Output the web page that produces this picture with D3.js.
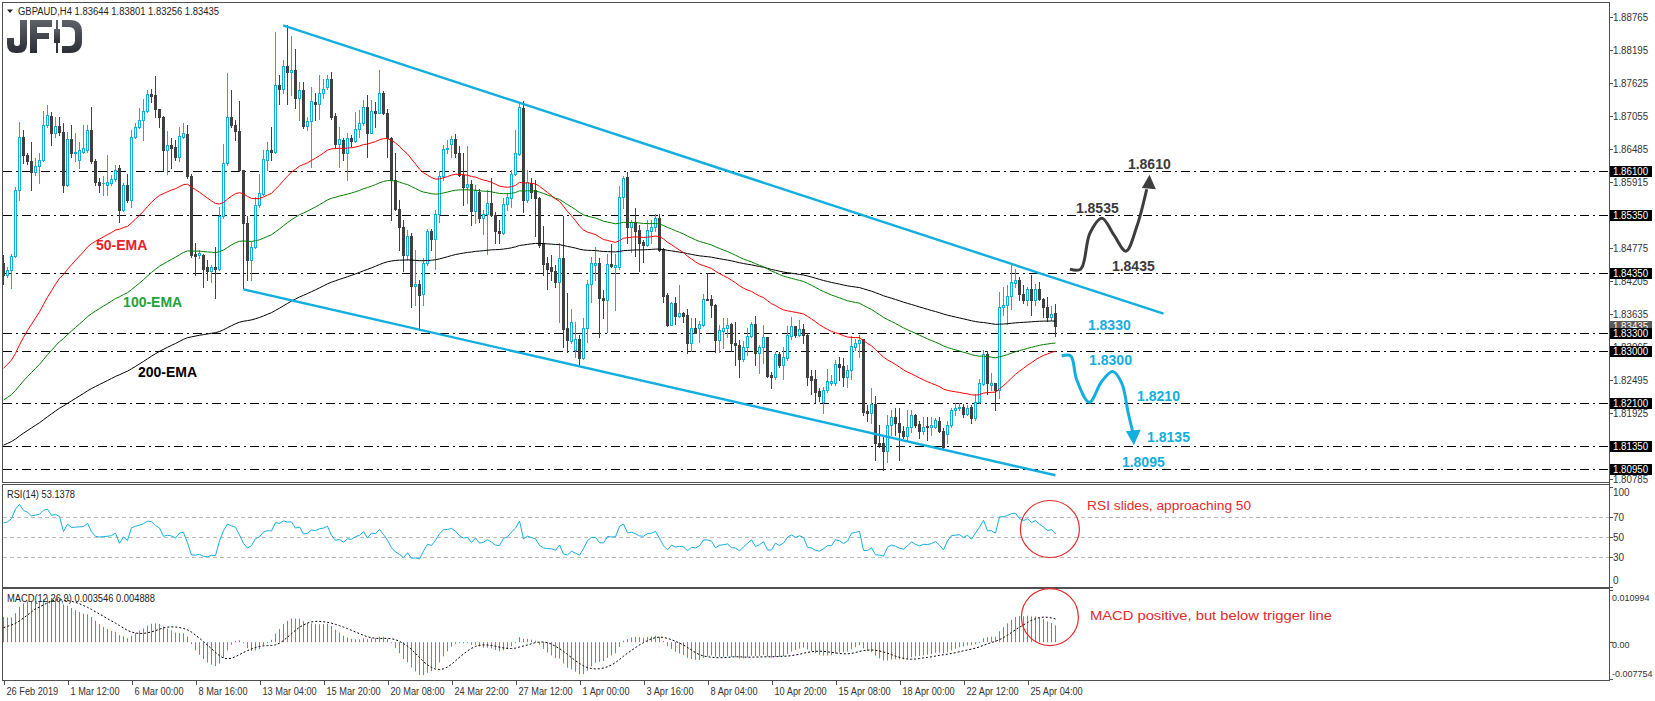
<!DOCTYPE html>
<html><head><meta charset="utf-8">
<script src="https://cdn.jsdelivr.net/npm/d3@7"></script>
<style>html,body{margin:0;padding:0;background:#fff;overflow:hidden}svg{display:block}</style>
</head><body>
<script>
// ---------------- DATA ----------------
const symbolTitle = "GBPAUD,H4  1.83644 1.83801 1.83256 1.83435";
const rsiTitle = "RSI(14) 53.1378";
const macdTitle = "MACD(12,26,9) 0.003546 0.004888";

const opens = [
1.8451,1.8431,1.8439,1.8464,1.8578,1.8670,1.8638,1.8628,1.8608,1.8619,
1.8630,1.8690,1.8706,1.8676,1.8688,1.8678,1.8586,1.8665,1.8641,1.8630,
1.8644,1.8647,1.8681,1.8627,1.8592,1.8589,1.8586,1.8590,1.8596,1.8615,
1.8543,1.8586,1.8560,1.8670,1.8686,1.8698,1.8715,1.8743,1.8742,1.8717,
1.8703,1.8647,1.8655,1.8652,1.8635,1.8670,1.8675,1.8601,1.8468,1.8465,
1.8465,1.8444,1.8437,1.8444,1.8442,1.8532,1.8624,1.8704,1.8690,1.8679,
1.8612,1.8520,1.8457,1.8479,1.8552,1.8571,1.8630,
1.8647,1.8644,1.8759,1.8753,1.8792,1.8782,1.8785,1.8736,1.8750,1.8688,
1.8697,1.8730,1.8726,1.8745,1.8756,1.8770,1.8705,1.8658,1.8664,1.8641,
1.8668,1.8663,1.8683,1.8693,1.8721,1.8677,1.8714,1.8711,1.8745,1.8710,
1.8667,1.8595,1.8544,1.8513,1.8465,1.8498,1.8412,1.8415,1.8398,1.8451,
1.8506,1.8493,1.8537,1.8601,1.8648,1.8658,1.8665,1.8642,1.8603,1.8582,
1.8588,1.8542,1.8575,1.8529,1.8536,1.8556,1.8534,1.8506,1.8504,1.8554,
1.8563,1.8606,1.8640,1.8719,1.8560,1.8590,
1.8578,1.8563,1.8486,1.8451,1.8444,1.8438,1.8419,1.8460,1.8339,1.8317,
1.8301,1.8321,1.8287,1.8340,1.8416,1.8448,1.8451,1.8392,1.8388,1.8450,
1.8444,1.8445,1.8565,1.8600,1.8513,1.8523,1.8509,1.8487,1.8483,1.8507,
1.8513,1.8529,1.8475,1.8396,1.8344,1.8382,1.8360,1.8366,1.8362,1.8314,
1.8340,1.8339,1.8344,1.8389,1.8389,1.8379,1.8319,1.8335,1.8339,1.8346,
1.8313,1.8310,1.8285,1.8306,1.8325,1.8346,1.8296,1.8306,1.8323,1.8258,
1.8254,1.8294,1.8275,1.8287,1.8325,1.8342,1.8327,
1.8337,1.8327,1.8256,1.8251,1.8231,1.8212,1.8232,1.8244,1.8244,1.8277,
1.8274,1.8255,1.8266,1.8307,1.8313,1.8320,1.8196,1.8193,1.8208,1.8141,
1.8141,1.8126,1.8172,1.8185,1.8175,1.8162,1.8152,1.8168,1.8189,1.8173,
1.8162,1.8170,1.8168,1.8169,1.8179,1.8162,1.8157,1.8172,1.8198,1.8201,
1.8203,1.8191,1.8203,1.8183,1.8212,1.8243,1.8294,1.8241,1.8244,1.8232,
1.8376,1.8379,1.8395,1.8417,1.8423,1.8398,1.8388,1.8406,1.8388,1.8406,
1.8389,1.8376,1.8358,1.83644];

const highs = [
1.8465,1.8445,1.8468,1.8583,1.8696,1.8681,1.8642,1.8661,1.8633,1.8641,
1.8715,1.8725,1.8713,1.8704,1.8703,1.8693,1.8678,1.8690,1.8677,1.8661,
1.8690,1.8690,1.8721,1.8631,1.8598,1.8601,1.8638,1.8604,1.8621,1.8621,
1.8589,1.8606,1.8681,1.8693,1.8719,1.8735,1.8750,1.8753,1.8775,1.8718,
1.8705,1.8679,1.8667,1.8664,1.8687,1.8693,1.8690,1.8606,1.8486,1.8474,
1.8468,1.8457,1.8448,1.8480,1.8549,1.8658,1.8780,1.8750,1.8699,1.8732,
1.8613,1.8533,1.8488,1.8566,1.8606,1.8647,1.8661,
1.8687,1.8851,1.8776,1.8802,1.8863,1.8843,1.8822,1.8765,1.8765,1.8704,
1.8756,1.8745,1.8776,1.8770,1.8776,1.8782,1.8710,1.8687,1.8667,1.8676,
1.8673,1.8713,1.8716,1.8733,1.8742,1.8733,1.8730,1.8785,1.8748,1.8717,
1.8670,1.8641,1.8560,1.8526,1.8509,1.8503,1.8474,1.8422,1.8460,1.8511,
1.8511,1.8543,1.8610,1.8655,1.8664,1.8671,1.8674,1.8653,1.8641,1.8653,
1.8595,1.8586,1.8580,1.8543,1.8578,1.8598,1.8540,1.8526,1.8563,1.8573,
1.8612,1.8681,1.8728,1.8732,1.8612,1.8598,
1.8595,1.8566,1.8516,1.8462,1.8465,1.8448,1.8486,1.8533,1.8400,1.8372,
1.8350,1.8327,1.8356,1.8422,1.8462,1.8479,1.8460,1.8405,1.8467,1.8484,
1.8467,1.8585,1.8601,1.8609,1.8526,1.8546,1.8517,1.8491,1.8526,1.8526,
1.8537,1.8537,1.8478,1.8399,1.8385,1.8393,1.8414,1.8367,1.8373,1.8356,
1.8356,1.8352,1.8398,1.8434,1.8396,1.8380,1.8344,1.8356,1.8356,1.8348,
1.8350,1.8319,1.8317,1.8339,1.8349,1.8360,1.8310,1.8344,1.8324,1.8264,
1.8298,1.8298,1.8306,1.8342,1.8358,1.8343,1.8353,
1.8347,1.8330,1.8267,1.8267,1.8235,1.8238,1.8268,1.8258,1.8284,1.8290,
1.8287,1.8275,1.8325,1.8321,1.8327,1.8321,1.8206,1.8235,1.8222,1.8172,
1.8152,1.8189,1.8198,1.8201,1.8201,1.8170,1.8198,1.8198,1.8191,1.8179,
1.8186,1.8186,1.8186,1.8183,1.8186,1.8166,1.8179,1.8201,1.8210,1.8210,
1.8208,1.8206,1.8206,1.8226,1.8252,1.8301,1.8300,1.8261,1.8245,1.8402,
1.8411,1.8414,1.8450,1.8441,1.8428,1.8414,1.8411,1.8431,1.8415,1.8418,
1.8391,1.8393,1.8378,1.83801];

const lows = [
1.8416,1.8428,1.8408,1.8462,1.8560,1.8624,1.8623,1.8578,1.8604,1.8590,
1.8627,1.8686,1.8655,1.8670,1.8673,1.8575,1.8585,1.8635,1.8627,1.8615,
1.8641,1.8644,1.8624,1.8586,1.8575,1.8569,1.8569,1.8586,1.8594,1.8523,
1.8542,1.8557,1.8549,1.8667,1.8684,1.8664,1.8713,1.8730,1.8704,1.8687,
1.8612,1.8606,1.8615,1.8630,1.8627,1.8667,1.8598,1.8462,1.8431,1.8460,
1.8411,1.8422,1.8419,1.8391,1.8439,1.8529,1.8621,1.8687,1.8664,1.8611,
1.8408,1.8422,1.8422,1.8477,1.8549,1.8569,1.8612,
1.8630,1.8641,1.8727,1.8745,1.8727,1.8742,1.8719,1.8699,1.8684,1.8681,
1.8618,1.8699,1.8700,1.8736,1.8752,1.8700,1.8650,1.8618,1.8630,1.8595,
1.8653,1.8661,1.8670,1.8690,1.8635,1.8676,1.8687,1.8710,1.8709,1.8635,
1.8526,1.8543,1.8474,1.8437,1.8457,1.8376,1.8379,1.8336,1.8379,1.8448,
1.8474,1.8442,1.8523,1.8595,1.8641,1.8635,1.8635,1.8601,1.8552,1.8555,
1.8517,1.8520,1.8523,1.8502,1.8468,1.8532,1.8486,1.8486,1.8502,1.8543,
1.8549,1.8604,1.8638,1.8539,1.8557,1.8563,
1.8498,1.8480,1.8431,1.8406,1.8422,1.8411,1.8349,1.8307,1.8298,1.8313,
1.8290,1.8273,1.8285,1.8316,1.8385,1.8422,1.8324,1.8356,1.8333,1.8445,
1.8370,1.8442,1.8546,1.8486,1.8471,1.8464,1.8438,1.8454,1.8481,1.8486,
1.8506,1.8472,1.8385,1.8342,1.8344,1.8347,1.8359,1.8350,1.8296,1.8299,
1.8330,1.8316,1.8342,1.8387,1.8359,1.8297,1.8297,1.8304,1.8324,1.8300,
1.8275,1.8255,1.8283,1.8293,1.8324,1.8275,1.8261,1.8278,1.8255,1.8235,
1.8252,1.8272,1.8252,1.8284,1.8321,1.8324,1.8325,
1.8313,1.8241,1.8226,1.8212,1.8214,1.8192,1.8229,1.8241,1.8241,1.8249,
1.8239,1.8238,1.8252,1.8301,1.8290,1.8189,1.8179,1.8175,1.8111,1.8134,
1.8094,1.8108,1.8155,1.8155,1.8112,1.8149,1.8146,1.8159,1.8169,1.8149,
1.8157,1.8146,1.8154,1.8166,1.8160,1.8131,1.8140,1.8169,1.8189,1.8198,
1.8186,1.8189,1.8175,1.8181,1.8210,1.8241,1.8226,1.8232,1.8198,1.8218,
1.8362,1.8347,1.8372,1.8411,1.8388,1.8383,1.8379,1.8362,1.8379,1.8388,
1.8359,1.8352,1.8354,1.83256];

const closes = [
1.8431,1.8439,1.8464,1.8578,1.8670,1.8638,1.8628,1.8608,1.8619,1.8630,
1.8690,1.8707,1.8676,1.8688,1.8678,1.8586,1.8665,1.8641,1.8644,1.8647,
1.8650,1.8681,1.8627,1.8592,1.8586,1.8590,1.8592,1.8596,1.8613,1.8543,
1.8586,1.8560,1.8670,1.8687,1.8699,1.8715,1.8743,1.8740,1.8717,1.8703,
1.8647,1.8655,1.8650,1.8635,1.8671,1.8676,1.8601,1.8465,1.8464,1.8469,
1.8442,1.8437,1.8445,1.8442,1.8532,1.8624,1.8704,1.8690,1.8679,1.8612,
1.8520,1.8457,1.8480,1.8552,1.8572,1.8631,1.8647,
1.8644,1.8759,1.8753,1.8792,1.8782,1.8785,1.8736,1.8750,1.8688,1.8697,
1.8731,1.8726,1.8745,1.8752,1.8770,1.8704,1.8658,1.8666,1.8641,1.8667,
1.8663,1.8683,1.8693,1.8721,1.8677,1.8714,1.8711,1.8745,1.8710,1.8667,
1.8595,1.8544,1.8513,1.8465,1.8498,1.8412,1.8415,1.8396,1.8451,1.8506,
1.8493,1.8537,1.8602,1.8648,1.8651,1.8665,1.8642,1.8603,1.8582,1.8588,
1.8542,1.8578,1.8529,1.8537,1.8556,1.8534,1.8506,1.8503,1.8554,1.8565,
1.8606,1.8641,1.8721,1.8560,1.8592,1.8575,
1.8563,1.8483,1.8450,1.8441,1.8438,1.8419,1.8460,1.8337,1.8319,1.8350,
1.8321,1.8287,1.8340,1.8416,1.8451,1.8451,1.8391,1.8388,1.8450,1.8446,
1.8448,1.8565,1.8598,1.8513,1.8523,1.8507,1.8486,1.8483,1.8509,1.8513,
1.8529,1.8474,1.8395,1.8344,1.8382,1.8360,1.8366,1.8360,1.8314,1.8340,
1.8331,1.8346,1.8389,1.8388,1.8379,1.8319,1.8336,1.8339,1.8344,1.8313,
1.8310,1.8285,1.8306,1.8325,1.8346,1.8296,1.8306,1.8323,1.8256,1.8254,
1.8294,1.8275,1.8289,1.8327,1.8342,1.8327,1.8337,
1.8327,1.8255,1.8249,1.8229,1.8221,1.8233,1.8248,1.8248,1.8277,1.8272,
1.8255,1.8266,1.8309,1.8313,1.8319,1.8195,1.8193,1.8208,1.8141,1.8137,
1.8126,1.8172,1.8185,1.8175,1.8160,1.8152,1.8168,1.8189,1.8172,1.8162,
1.8169,1.8168,1.8172,1.8180,1.8162,1.8134,1.8172,1.8198,1.8201,1.8203,
1.8191,1.8201,1.8183,1.8212,1.8244,1.8294,1.8244,1.8244,1.8232,1.8376,
1.8379,1.8395,1.8418,1.8423,1.8398,1.8388,1.8406,1.8388,1.8406,1.8389,
1.8375,1.8358,1.8364,1.83435];

// indicator starting states at the first visible bar
const ema50Start = 1.8270, ema100Start = 1.8215, ema200Start = 1.8137;
const ema12Start = 1.8405, ema26Start = 1.8352, macdBefore = 0.0028;
const rsiGainStart = 0.0013, rsiLossStart = 0.00073;

const xTickBars = [0,16,32,48,64,80,96,112,128,144,160,176,192,208,224,240,256];
const xTickLabels = ["26 Feb 2019","1 Mar 12:00","6 Mar 00:00","8 Mar 16:00","13 Mar 04:00","15 Mar 20:00","20 Mar 08:00","24 Mar 22:00","27 Mar 12:00","1 Apr 00:00","3 Apr 16:00","8 Apr 04:00","10 Apr 20:00","15 Apr 08:00","18 Apr 00:00","22 Apr 12:00","25 Apr 04:00"];
const priceTicks = [1.88765,1.88195,1.87625,1.87055,1.86485,1.85915,1.85345,1.84775,1.84205,1.83635,1.83065,1.82495,1.81925,1.81355,1.80785];
const levels = [1.8610,1.8535,1.8435,1.8330,1.8300,1.8210,1.8135,1.8095];
const rsiTicks = [100,70,50,30,0];
const rsiLevels = [70,50,30];
const macdTicks = [0.010994,0,-0.007754];
const macdTickLabels = ["0.010994","0.00","-0.007754"];

// drawn objects (bar index, price)
const upperChannel = [[69.9,1.8862],[290,1.8364]];
const lowerChannel = [[60,1.8406],[263,1.8085]];
const bullPath = [[266.6,1.8441],[269.3,1.8441],[271.6,1.8503],[274.6,1.8529],[277.6,1.8500],[280.6,1.8472],[283.3,1.8514],[285.8,1.8579]];
const bullHead = [[286.5,1.8604],[284.6,1.8581],[288.1,1.8579]];
const bearPath = [[264.55,1.8291],[266.8,1.8291],[268.3,1.8250],[271.45,1.8211],[274.55,1.8247],[277.3,1.8264],[279.55,1.8244],[281.2,1.8192],[282.3,1.8160]];
const bearHead = [[282.6,1.8137],[280.6,1.8161],[284.3,1.8164]];
const levelNotes = [
 {t:"1.8610",bar:281.1,p:1.8610,dy:-2,c:"dark"},
 {t:"1.8535",bar:268.1,p:1.8535,dy:-2,c:"dark"},
 {t:"1.8435",bar:277.1,p:1.8435,dy:-2,c:"dark"},
 {t:"1.8330",bar:271.1,p:1.8330,dy:-3.5,c:"cyan"},
 {t:"1.8300",bar:271.4,p:1.8300,dy:14,c:"cyan"},
 {t:"1.8210",bar:283.4,p:1.8210,dy:-2,c:"cyan"},
 {t:"1.8135",bar:285.9,p:1.8135,dy:-4,c:"cyan"},
 {t:"1.8095",bar:279.6,p:1.8095,dy:-2.5,c:"cyan"}];
const emaNotes = [{t:"50-EMA",bar:23.1,p:1.8474,c:"#e8202a"},{t:"100-EMA",bar:29.9,p:1.8376,c:"#23a23c"},{t:"200-EMA",bar:33.6,p:1.8255,c:"#000"}];
const rsiNote = {t:"RSI slides, approaching 50", bar:270.9, v:77, cbar:261.6, cv:58};
const macdNote = {t:"MACD positive, but below trigger line", bar:271.6, v:0.00468, cbar:261.6, cv:0.0053};

// ---------------- INDICATORS ----------------
function ema(src, n, start){const k=2/(n+1);const o=[start];for(let i=1;i<src.length;i++)o.push(o[i-1]+k*(src[i]-o[i-1]));return o;}
const ema50 = ema(closes,50,ema50Start), ema100 = ema(closes,100,ema100Start), ema200 = ema(closes,200,ema200Start);
const e12 = ema(closes,12,ema12Start), e26 = ema(closes,26,ema26Start);
const macd = e12.map((v,i)=>v-e26[i]);
const hist = Array(8).fill(macdBefore).concat(macd);
const signal = macd.map((v,i)=>d3.mean(hist.slice(i,i+9)));
const rsi = [];
{let ag=rsiGainStart, al=rsiLossStart; rsi.push(100-100/(1+ag/al));
 for(let i=1;i<closes.length;i++){const ch=closes[i]-closes[i-1];ag=(ag*13+Math.max(ch,0))/14;al=(al*13+Math.max(-ch,0))/14;rsi.push(100-100/(1+ag/al));}}

// ---------------- DRAW ----------------
const W=1655,H=701, FONT='"Liberation Sans", Arial, sans-serif';
const CYAN="#13aee0", DARK="#404040", FRAME="#505050";
const svg=d3.select("body").append("svg").attr("width",W).attr("height",H).style("font-family",FONT);
svg.append("rect").attr("width",W).attr("height",H).attr("fill","#fff");
const L=3, R=1609;
const P={top:3,bottom:482}, RP={top:485,bottom:587}, MP={top:589,bottom:680};
const x=d3.scaleLinear().domain([0,263]).range([3.5,3.5+4*263]);
const y=d3.scaleLinear().domain([1.80785,1.88765]).range([479,17]);
const yR=d3.scaleLinear().domain([0,100]).range([587,487]);
const yM=d3.scaleLinear().domain([-0.007754,0.010994]).range([679,590]);

const defs=svg.append("defs");
[["cm",P],["cr",RP],["cmd",MP]].forEach(([id,p])=>defs.append("clipPath").attr("id",id).append("rect").attr("x",L).attr("y",p.top).attr("width",R-L).attr("height",p.bottom-p.top));
const lg=defs.append("linearGradient").attr("id","lg").attr("x1",0).attr("y1",0).attr("x2",0).attr("y2",1);
lg.append("stop").attr("offset","0").attr("stop-color","#5d6168");
lg.append("stop").attr("offset","1").attr("stop-color","#2b2e34");

// frames
[P,RP,MP].forEach(p=>svg.append("rect").attr("x",L-0.5).attr("y",p.top-0.5).attr("width",R-L+1).attr("height",p.bottom-p.top+1).attr("fill","none").attr("stroke",FRAME).attr("stroke-width",1));

// ---- main panel
const gm=svg.append("g").attr("clip-path","url(#cm)");
gm.selectAll("line.lvl").data(levels).join("line").attr("class","lvl")
  .attr("x1",L).attr("x2",R).attr("y1",d=>Math.round(y(d))+0.5).attr("y2",d=>Math.round(y(d))+0.5)
  .attr("stroke","#000").attr("stroke-width",1).attr("stroke-dasharray","9,4,2,4");

const candles=gm.append("g");
closes.forEach((c,i)=>{
  const o=opens[i], hi=highs[i], lo=lows[i], cx=x(i), bull=c>=o;
  const col=bull?CYAN:DARK;
  candles.append("line").attr("x1",cx).attr("x2",cx).attr("y1",Math.round(y(hi))).attr("y2",Math.round(y(lo))+1).attr("stroke",col).attr("stroke-width",1);
  const t=Math.round(y(Math.max(o,c))), b=Math.round(y(Math.min(o,c)));
  if(b-t<1){candles.append("line").attr("x1",cx-1.5).attr("x2",cx+1.5).attr("y1",t+0.5).attr("y2",t+0.5).attr("stroke",col);}
  else if(bull){candles.append("rect").attr("x",cx-1).attr("y",t+0.5).attr("width",2).attr("height",b-t).attr("fill","#fff").attr("stroke",col).attr("stroke-width",1);}
  else {candles.append("rect").attr("x",cx-1.5).attr("y",t).attr("width",3).attr("height",b-t+1).attr("fill",col);}
});

const lineP=d3.line().x((d,i)=>x(i)).y(d=>y(d));
[[ema200,"#000"],[ema100,"#008000"],[ema50,"#ff0000"]].forEach(([s,c])=>gm.append("path").attr("d",lineP(s)).attr("fill","none").attr("stroke",c).attr("stroke-width",1));

const dl=d3.line().x(d=>x(d[0])).y(d=>y(d[1]));
[upperChannel,lowerChannel].forEach(s=>gm.append("path").attr("d",dl(s)).attr("stroke",CYAN).attr("stroke-width",2.4).attr("fill","none"));
const cl=d3.line().x(d=>x(d[0])).y(d=>y(d[1])).curve(d3.curveCatmullRom.alpha(0.5));
gm.append("path").attr("d",cl(bullPath)).attr("fill","none").attr("stroke","#3d3d3d").attr("stroke-width",3);
gm.append("path").attr("d",dl(bullHead)+"Z").attr("fill","#3d3d3d");
gm.append("path").attr("d",cl(bearPath)).attr("fill","none").attr("stroke",CYAN).attr("stroke-width",3);
gm.append("path").attr("d",dl(bearHead)+"Z").attr("fill",CYAN);

levelNotes.forEach(n=>gm.append("text").attr("x",x(n.bar)).attr("y",y(n.p)+n.dy).text(n.t)
  .attr("font-size",14).attr("font-weight","bold").attr("fill",n.c==="dark"?"#3a3a3a":CYAN));
emaNotes.forEach(n=>gm.append("text").attr("x",x(n.bar)).attr("y",y(n.p)).text(n.t)
  .attr("font-size",14).attr("font-weight","bold").attr("fill",n.c));

// header + logo
svg.append("path").attr("d","M7,9.5 L13,9.5 L10,13 Z").attr("fill","#222");
svg.append("text").attr("x",18).attr("y",15).attr("font-size",10).attr("fill","#222").attr("textLength",201).attr("lengthAdjust","spacingAndGlyphs").text(symbolTitle);
const logo=svg.append("g").attr("fill","url(#lg)");
logo.append("path").attr("d","M20,20 L27,20 L27,44 Q27,53 18,53 L16,53 Q7,53 7,44 L7,38 L14,38 L14,43 Q14,46 17,46 Q20,46 20,43 Z");
logo.append("path").attr("d","M30,20 L52,20 L52,27 L37,27 L37,33 L49,33 L49,39 L37,39 L37,53 L30,53 Z");
logo.append("rect").attr("x",56).attr("y",20).attr("width",2).attr("height",33);
logo.append("rect").attr("x",54).attr("y",29).attr("width",6).attr("height",14);
logo.append("path").attr("d","M62,20 L70,20 Q82,20 82,32 L82,41 Q82,53 70,53 L62,53 L62,46 L69,46 Q75,46 75,40 L75,33 Q75,27 69,27 L62,27 Z");

// ---- RSI panel
const gr=svg.append("g").attr("clip-path","url(#cr)");
gr.selectAll("line").data(rsiLevels).join("line").attr("x1",L).attr("x2",R).attr("y1",d=>yR(d)+0.5).attr("y2",d=>yR(d)+0.5)
  .attr("stroke","#bdbdbd").attr("stroke-dasharray","4,3");
gr.append("path").attr("d",d3.line().x((d,i)=>x(i)).y(d=>yR(d))(rsi)).attr("fill","none").attr("stroke",CYAN).attr("stroke-width",1);
svg.append("text").attr("x",7).attr("y",498).attr("font-size",10).attr("fill","#222").attr("textLength",68).attr("lengthAdjust","spacingAndGlyphs").text(rsiTitle);
svg.append("ellipse").attr("cx",x(rsiNote.cbar)).attr("cy",yR(rsiNote.cv)).attr("rx",29.5).attr("ry",28.5).attr("fill","none").attr("stroke","#e02a2a").attr("stroke-width",1.2);
svg.append("text").attr("x",x(rsiNote.bar)).attr("y",yR(rsiNote.v)).attr("font-size",13).attr("fill","#e02a2a").attr("textLength",164).attr("lengthAdjust","spacingAndGlyphs").text(rsiNote.t);

// ---- MACD panel
const gd=svg.append("g").attr("clip-path","url(#cmd)");
gd.selectAll("rect").data(macd).join("rect").attr("x",(d,i)=>x(i)-0.5).attr("width",1)
  .attr("y",d=>Math.min(yM(d),yM(0))).attr("height",d=>Math.max(1,Math.abs(yM(d)-yM(0)))).attr("fill","#1ea6d0");
gd.append("path").attr("d",d3.line().x((d,i)=>x(i)).y(d=>yM(d))(signal)).attr("fill","none").attr("stroke","#000").attr("stroke-width",1).attr("stroke-dasharray","2,2");
svg.append("text").attr("x",7).attr("y",602).attr("font-size",10).attr("fill","#222").attr("textLength",148).attr("lengthAdjust","spacingAndGlyphs").text(macdTitle);
svg.append("ellipse").attr("cx",x(macdNote.cbar)).attr("cy",yM(macdNote.cv)).attr("rx",28.5).attr("ry",28.5).attr("fill","none").attr("stroke","#e02a2a").attr("stroke-width",1.2);
svg.append("text").attr("x",x(macdNote.bar)).attr("y",yM(macdNote.v)).attr("font-size",13).attr("fill","#e02a2a").attr("textLength",242).attr("lengthAdjust","spacingAndGlyphs").text(macdNote.t);

// ---- right axis
svg.append("line").attr("x1",R+0.5).attr("x2",R+0.5).attr("y1",P.top-0.5).attr("y2",MP.bottom+0.5).attr("stroke",FRAME);
const ax=svg.append("g").attr("font-size",10).attr("fill","#333");
function fit(t,k){const w=t.node().getComputedTextLength();t.attr("textLength",w*k).attr("lengthAdjust","spacingAndGlyphs");return t;}
priceTicks.forEach(p=>{const yy=Math.round(y(p))+0.5;
  ax.append("line").attr("x1",R).attr("x2",R+4).attr("y1",yy).attr("y2",yy).attr("stroke",FRAME);
  fit(ax.append("text").attr("x",1613).attr("y",yy+3.5).text(p.toFixed(5)),0.97);});
const cur=closes[closes.length-1];
function box(p,fill){const yy=Math.round(y(p));
  ax.append("rect").attr("x",1610).attr("y",yy-5).attr("width",42).attr("height",11).attr("fill",fill);
  fit(ax.append("text").attr("x",1613).attr("y",yy+4).attr("fill","#fff").text(p.toFixed(5)),0.97);}
box(cur,"#5a5a5a");
levels.forEach(p=>box(p,"#000"));
rsiTicks.forEach(v=>{const yy=yR(v)+0.5, ty=Math.max(492,Math.min(580,yy));
  ax.append("line").attr("x1",R).attr("x2",R+4).attr("y1",yy).attr("y2",yy).attr("stroke",FRAME);
  ax.append("text").attr("x",1613).attr("y",ty+3.5).text(v);});
macdTicks.forEach((v,i)=>{const yy=Math.round(yM(v))+0.5, ty=Math.max(597,Math.min(673,yy+2));
  ax.append("line").attr("x1",R).attr("x2",R+4).attr("y1",yy).attr("y2",yy).attr("stroke",FRAME);
  ax.append("text").attr("x",1612).attr("y",ty+3.5).attr("font-size",9).text(macdTickLabels[i]);});

// ---- x axis
const xa=svg.append("g").attr("font-size",10).attr("fill","#333");
xTickBars.forEach((b,i)=>{const xx=Math.round(x(b))+0.5;
  xa.append("line").attr("x1",xx).attr("x2",xx).attr("y1",MP.bottom).attr("y2",MP.bottom+5).attr("stroke",FRAME);
  fit(xa.append("text").attr("x",xx+2).attr("y",694.5).text(xTickLabels[i]),0.92);});
</script>
</body></html>
